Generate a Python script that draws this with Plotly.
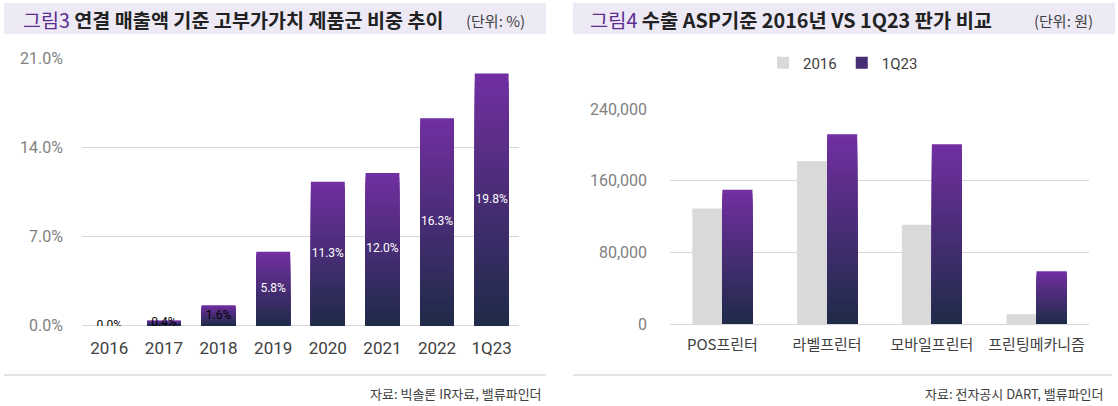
import plotly.graph_objects as go

# ---------------- data ----------------
years = ["2016", "2017", "2018", "2019", "2020", "2021", "2022", "1Q23"]
share_pct = [0.0, 0.4, 1.6, 5.8, 11.3, 12.0, 16.3, 19.8]

products = ["POS프린터", "라벨프린터", "모바일프린터", "프린팅메카니즘"]
asp_2016 = [129000, 182000, 111000, 11000]
asp_1q23 = [150000, 212000, 201000, 59000]

left_yticks = [0, 7, 14, 21]
right_yticks = [0, 80000, 160000, 240000]

# ---------------- style ----------------
W, H = 1118, 406
TOP = (0x72, 0x2F, 0xA2)
BOT = (0x1E, 0x2B, 0x48)
N_LAYERS = 32
KFONT = "Noto Sans CJK KR"
NFONT = "Roboto, Noto Sans CJK KR"


def mix(t):
    r = round(BOT[0] + (TOP[0] - BOT[0]) * t)
    g = round(BOT[1] + (TOP[1] - BOT[1]) * t)
    b = round(BOT[2] + (TOP[2] - BOT[2]) * t)
    return f"rgb({r},{g},{b})"


def px(x):
    return x / W


def py(y):
    return 1 - y / H


fig = go.Figure()

# ---- left chart: gradient bars built from stacked-down layers ----
for k in range(N_LAYERS):
    frac = (N_LAYERS - k) / N_LAYERS
    fig.add_trace(go.Bar(
        x=years, y=[v * frac for v in share_pct],
        xaxis="x", yaxis="y",
        width=0.62, offset=-0.31,
        marker=dict(color=mix(frac - 0.5 / N_LAYERS), line=dict(width=0)),
        showlegend=False, hoverinfo="skip",
    ))

label_colors = ["#000000" if v < 3 else "#FFFFFF" for v in share_pct]
fig.add_trace(go.Scatter(
    x=years, y=[v / 2 for v in share_pct],
    xaxis="x", yaxis="y",
    mode="text", text=[f"{v:.1f}%" for v in share_pct],
    textfont=dict(family=NFONT, size=12, color=label_colors),
    showlegend=False, hoverinfo="skip",
))

# ---- right chart ----
fig.add_trace(go.Bar(
    x=products, y=asp_2016, name="2016",
    xaxis="x2", yaxis="y2",
    width=0.287, offset=-0.287,
    marker=dict(color="#D9D9D9", line=dict(width=0)),
    hoverinfo="skip", showlegend=True, legendrank=1,
))
for k in range(N_LAYERS):
    frac = (N_LAYERS - k) / N_LAYERS
    fig.add_trace(go.Bar(
        x=products, y=[v * frac for v in asp_1q23], name="1Q23",
        xaxis="x2", yaxis="y2",
        width=0.287, offset=0.0,
        marker=dict(color=mix(frac - 0.5 / N_LAYERS), line=dict(width=0)),
        showlegend=(k == N_LAYERS // 2), legendrank=2, hoverinfo="skip",
    ))

grid = "#D9D9D9"
fig.update_layout(
    width=W, height=H,
    autosize=False,
    margin=dict(l=0, r=0, t=0, b=0, pad=0, autoexpand=False),
    paper_bgcolor="white", plot_bgcolor="white",
    barmode="overlay",
    font=dict(family=NFONT, color="#404040"),
    xaxis=dict(domain=[px(82), px(519)], type="category", showgrid=False,
               showline=False, ticks="", ticklabelstandoff=10, automargin=False,
               tickfont=dict(family=NFONT, size=17, color="#404040"),
               fixedrange=True),
    yaxis=dict(domain=[py(325.7), py(58.3)], range=[0, 21], tickvals=left_yticks,
               ticktext=[f"{v:.1f}%" for v in left_yticks],
               showgrid=True, gridcolor=grid, gridwidth=1,
               zeroline=True, zerolinecolor=grid, zerolinewidth=1,
               showline=False, ticks="", ticklabelstandoff=18, automargin=False,
               tickfont=dict(family=NFONT, size=16, color="#7F7F7F"),
               fixedrange=True),
    xaxis2=dict(domain=[px(670), px(1089)], type="category", showgrid=False,
                showline=False, ticks="", ticklabelstandoff=10, automargin=False,
                tickfont=dict(family=KFONT, size=15, color="#404040"),
                anchor="y2", fixedrange=True),
    yaxis2=dict(domain=[py(324), py(109.3)], range=[0, 240000], tickvals=right_yticks,
                tickformat=",d",
                showgrid=True, gridcolor=grid, gridwidth=1,
                zeroline=True, zerolinecolor=grid, zerolinewidth=1,
                showline=False, ticks="", ticklabelstandoff=22, automargin=False,
                tickfont=dict(family=NFONT, size=16, color="#7F7F7F"),
                anchor="x2", fixedrange=True),
    legend=dict(orientation="h", x=px(843), y=py(63), xanchor="center", yanchor="middle",
                font=dict(family=NFONT, size=15, color="#404040"),
                bgcolor="rgba(0,0,0,0)", itemwidth=30, traceorder="normal",
                tracegroupgap=0),
)

# title backgrounds & bottom rules
shapes = []
for x0, x1 in [(4, 546), (573, 1115)]:
    shapes.append(dict(type="rect", xref="paper", yref="paper",
                       x0=px(x0), x1=px(x1), y0=py(34), y1=py(3),
                       fillcolor="#EEEAF5", line=dict(width=0), layer="below"))
for x0, x1 in [(4, 546), (573, 1112)]:
    shapes.append(dict(type="line", xref="paper", yref="paper",
                       x0=px(x0), x1=px(x1), y0=py(375), y1=py(375),
                       line=dict(color="#DCDCDC", width=1.5)))
fig.update_layout(shapes=shapes)

purple = "#5B2D90"
ann = [
    dict(x=px(21), y=py(19), xanchor="left", yanchor="middle",
         text=f"<span style='color:{purple}'>그림3</span> <b>연결 매출액 기준 고부가가치 제품군 비중 추이</b>",
         font=dict(family=KFONT, size=19.6, color="#222222")),
    dict(x=px(464), y=py(20), xanchor="left", yanchor="middle",
         text="(단위: %)", font=dict(family=KFONT, size=15, color="#404040")),
    dict(x=px(588), y=py(19), xanchor="left", yanchor="middle",
         text=f"<span style='color:{purple}'>그림4</span> <b>수출 ASP기준 2016년 VS 1Q23 판가 비교</b>",
         font=dict(family=KFONT, size=19.8, color="#222222")),
    dict(x=px(1032), y=py(20), xanchor="left", yanchor="middle",
         text="(단위: 원)", font=dict(family=KFONT, size=15, color="#404040")),
    dict(x=px(544), y=py(393), xanchor="right", yanchor="middle",
         text="자료: 빅솔론 IR자료, 밸류파인더", font=dict(family=KFONT, size=13, color="#404040")),
    dict(x=px(1106), y=py(393), xanchor="right", yanchor="middle",
         text="자료: 전자공시 DART, 밸류파인더", font=dict(family=KFONT, size=13, color="#404040")),
]
for a in ann:
    a.update(xref="paper", yref="paper", showarrow=False)
fig.update_layout(annotations=ann)

fig.write_html(
    "out.html",
    config={"displayModeBar": False},
    post_script="document.body.style.margin='0';document.body.style.overflow='hidden';",
)
